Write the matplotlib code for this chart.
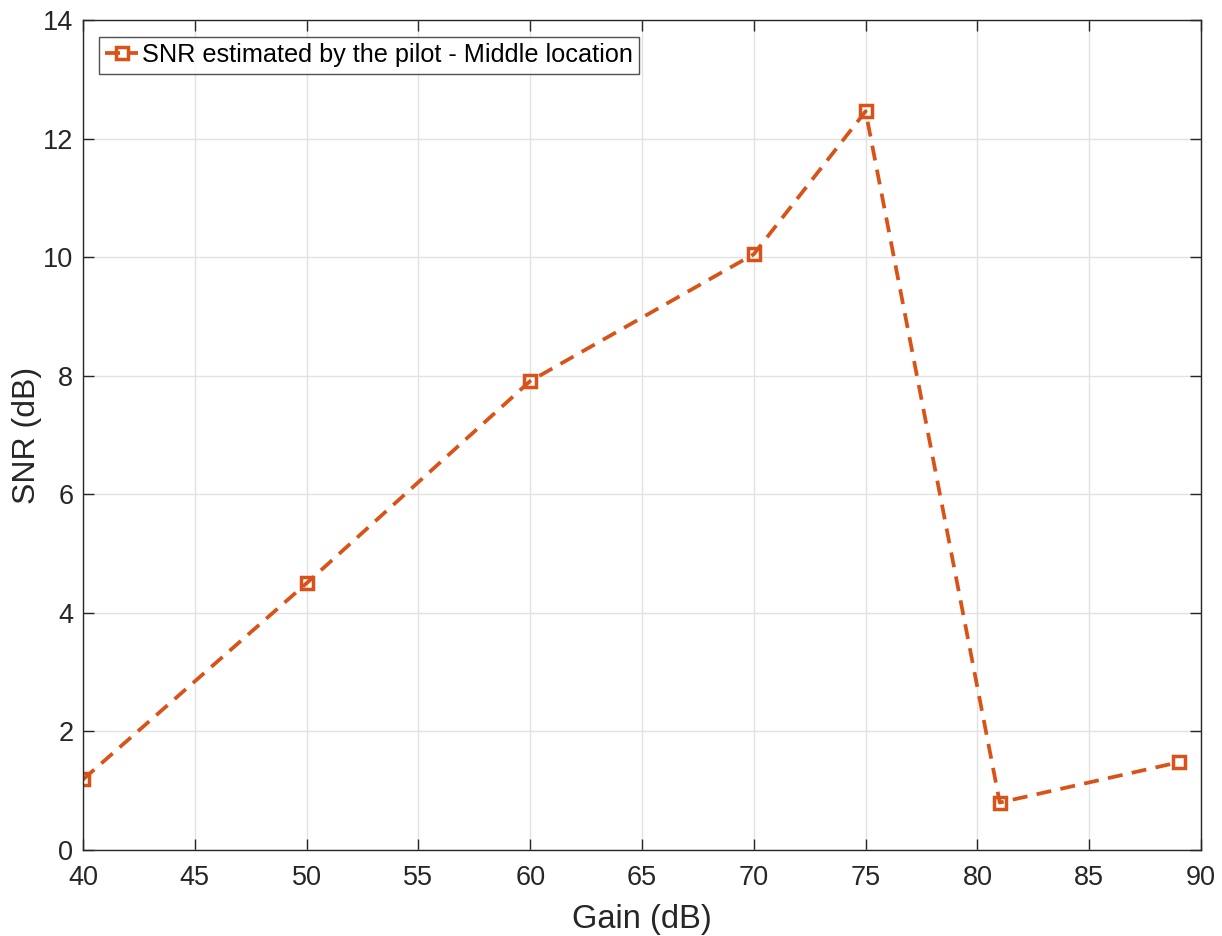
import matplotlib
matplotlib.use("Agg")
import matplotlib.pyplot as plt

gain = [40, 50, 60, 70, 75, 81, 89]
snr = [1.19, 4.50, 7.91, 10.05, 12.46, 0.80, 1.48]
label = "SNR estimated by the pilot - Middle location"
xticks = [40, 45, 50, 55, 60, 65, 70, 75, 80, 85, 90]
yticks = [0, 2, 4, 6, 8, 10, 12, 14]

plt.rcParams['font.family'] = ['Liberation Sans', 'DejaVu Sans']
fig = plt.figure(figsize=(12.22, 9.36), dpi=100)
ax = fig.add_axes([83/1222, 1 - 850/936, (1201-83)/1222, (850-20)/936])

ax.plot(gain, snr, linestyle=(0, (4, 2.5)), color='#D95319', linewidth=2.7,
        marker='s', markersize=8.5, markerfacecolor='none', markeredgecolor='#D95319',
        markeredgewidth=2.5, label=label)

ax.set_xlim(40, 90)
ax.set_ylim(0, 14)
ax.set_xticks(xticks)
ax.set_yticks(yticks)
ax.grid(True, color='#e2e2e2', linewidth=1)
ax.set_axisbelow(True)
ax.tick_params(direction='in', length=8, width=1, colors='#262626', labelsize=19.5,
               top=True, right=True)
ax.tick_params(axis='x', pad=11)
ax.tick_params(axis='y', pad=7)
for s in ax.spines.values():
    s.set_color('#262626')
    s.set_linewidth(1)
ax.set_xlabel("Gain (dB)", fontsize=23.5, color='#262626', labelpad=9)
ax.set_ylabel("SNR (dB)", fontsize=23, color='#262626', labelpad=1)

leg = ax.legend(loc='upper left', fontsize=18.2, frameon=True, fancybox=False,
                edgecolor='#262626', borderpad=0.25, handlelength=1.3,
                handletextpad=0.15, borderaxespad=0,
                bbox_to_anchor=(16/1118, 1 - 17/830))
leg.get_frame().set_linewidth(1)

fig.savefig("out.png", dpi=100)
